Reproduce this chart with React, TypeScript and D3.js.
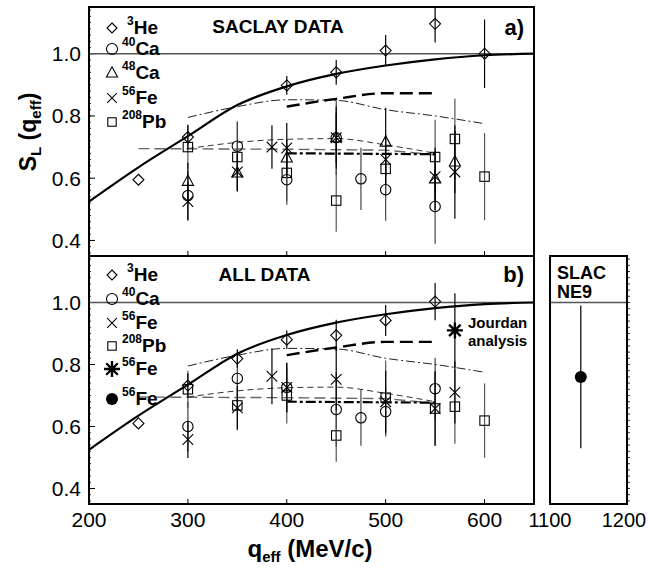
import React from "react";
import * as d3 from "d3";

// ---------- data ----------
type Pt = [number, number, number]; // q, S, err

const topHe: Pt[] = [[250, 0.595, 0], [300, 0.732, 0.04], [400, 0.898, 0.03], [450, 0.94, 0.04], [500, 1.01, 0.05], [550, 1.096, 0.06], [600, 1.0, 0.11]];
const topCa40: Pt[] = [[300, 0.544, 0.08], [350, 0.703, 0.08], [400, 0.595, 0.08], [450, 0.73, 0.12], [475, 0.598, 0.1], [500, 0.563, 0.1], [550, 0.509, 0.12]];
const topCa48: Pt[] = [[300, 0.59, 0.06], [350, 0.617, 0.06], [400, 0.665, 0.06], [450, 0.73, 0.08], [500, 0.716, 0.11], [550, 0.598, 0.1], [570, 0.652, 0.1]];
const topFe: Pt[] = [[300, 0.525, 0.06], [350, 0.62, 0.06], [385, 0.70, 0.07], [400, 0.697, 0.08], [450, 0.73, 0.1], [500, 0.66, 0.08], [550, 0.605, 0.08], [570, 0.62, 0.15]];
const topPb: Pt[] = [[300, 0.70, 0.07], [350, 0.668, 0.11], [400, 0.617, 0.09], [450, 0.528, 0.1], [500, 0.63, 0.08], [550, 0.668, 0.12], [570, 0.726, 0.13], [600, 0.605, 0.14]];

const botHe: Pt[] = [[250, 0.61, 0], [300, 0.732, 0.04], [350, 0.819, 0.03], [400, 0.88, 0.03], [450, 0.894, 0.05], [500, 0.942, 0.05], [550, 1.003, 0.06]];
const botCa40: Pt[] = [[300, 0.60, 0.08], [350, 0.755, 0.08], [400, 0.726, 0.08], [450, 0.655, 0.12], [475, 0.628, 0.09], [500, 0.648, 0.08], [550, 0.722, 0.1]];
const botFe: Pt[] = [[300, 0.558, 0.06], [350, 0.66, 0.07], [385, 0.762, 0.09], [400, 0.726, 0.08], [450, 0.752, 0.1], [500, 0.68, 0.1], [550, 0.658, 0.12], [570, 0.71, 0.1]];
const botPb: Pt[] = [[300, 0.72, 0.06], [350, 0.668, 0.08], [400, 0.70, 0.09], [450, 0.571, 0.085], [500, 0.693, 0.12], [550, 0.658, 0.12], [570, 0.664, 0.12], [600, 0.619, 0.12]];
const jourdan: Pt[] = [[570, 0.91, 0.12]];
const slac: Pt[] = [[1140, 0.76, 0.23]];

// theory curves
const curveSolid: [number, number][] = [[200, 0.525], [250, 0.635], [300, 0.735], [350, 0.835], [400, 0.895], [450, 0.935], [500, 0.962], [550, 0.982], [600, 0.995], [650, 1.0]];
const curveDashDotUpper: [number, number][] = [[300, 0.795], [350, 0.83], [400, 0.852], [450, 0.85], [500, 0.82], [550, 0.80], [600, 0.775]];
const curveThickDash: [number, number][] = [[400, 0.83], [450, 0.855], [500, 0.873], [550, 0.873]];
const curveThinDash: [number, number][] = [[300, 0.695], [350, 0.715], [400, 0.725], [450, 0.727], [500, 0.707], [550, 0.68]];
const curveGreyDash: [number, number][] = [[250, 0.695], [400, 0.693], [500, 0.69], [550, 0.675]];
const curveThickDashDot: [number, number][] = [[400, 0.68], [550, 0.677]];

const xTicksMain = [200, 300, 400, 500, 600];
const xTicksSlac = [1100, 1200];
const yTicks = [0.4, 0.6, 0.8, 1.0];

const topLegend = [["3", "He", "diamond"], ["40", "Ca", "circle"], ["48", "Ca", "triangle"], ["56", "Fe", "cross"], ["208", "Pb", "square"]];
const botLegend = [["3", "He", "diamond"], ["40", "Ca", "circle"], ["56", "Fe", "cross"], ["208", "Pb", "square"], ["56", "Fe", "asterisk"], ["56", "Fe", "dot"]];

// ---------- layout ----------
const FONT = "'Liberation Sans', Arial, Helvetica, sans-serif";
const xMain = d3.scaleLinear().domain([200, 650]).range([89, 534]);
const xSlac = d3.scaleLinear().domain([1100, 1200]).range([550, 627]);
const yTop = d3.scaleLinear().domain([0.35, 1.15]).range([256, 7]);
const yBot = d3.scaleLinear().domain([0.35, 1.15]).range([504, 256]);

function Marker({ kind, x, y, legend }: { kind: string; x: number; y: number; legend?: boolean }) {
  const st = { stroke: "#000", strokeWidth: 1.1, fill: "none" } as any;
  switch (kind) {
    case "diamond": {
      const r = legend ? 5 : 5.5;
      return <path d={`M${x},${y - r}L${x + r},${y}L${x},${y + r}L${x - r},${y}Z`} {...st} />;
    }
    case "circle":
      return <circle cx={x} cy={y} r={legend ? 5.5 : 5.2} {...st} />;
    case "triangle": {
      const r = 6.2;
      return <path d={`M${x},${y - r}L${x + r * 0.9},${y + r * 0.65}L${x - r * 0.9},${y + r * 0.65}Z`} {...st} />;
    }
    case "cross": {
      const r = legend ? 4.8 : 5.3;
      return <path d={`M${x - r},${y - r}L${x + r},${y + r}M${x - r},${y + r}L${x + r},${y - r}`} {...st} />;
    }
    case "square": {
      const r = legend ? 4.2 : 4.7;
      return <rect x={x - r} y={y - r} width={2 * r} height={2 * r} {...st} />;
    }
    case "asterisk": {
      const r = 8;
      const d = r * 0.72;
      return <path d={`M${x},${y - r}L${x},${y + r}M${x - r},${y}L${x + r},${y}M${x - d},${y - d}L${x + d},${y + d}M${x - d},${y + d}L${x + d},${y - d}`} stroke="#000" strokeWidth={2.4} fill="none" />;
    }
    case "dot":
      return <circle cx={x} cy={y} r={6} fill="#000" />;
  }
  return null;
}

function Series({ data, kind, x, y, errColor }: { data: Pt[]; kind: string; x: any; y: any; errColor: string }) {
  return (
    <g>
      {data.map((d, i) =>
        d[2] > 0 ? (
          <line key={"e" + i} x1={x(d[0])} x2={x(d[0])} y1={y(d[1] + d[2])} y2={y(d[1] - d[2])} stroke={errColor} strokeWidth={1.2} />
        ) : null
      )}
      {data.map((d, i) => (
        <Marker key={"m" + i} kind={kind} x={x(d[0])} y={y(d[1])} />
      ))}
    </g>
  );
}

function Curves({ y }: { y: any }) {
  const mk = (c: [number, number][], mono: boolean) =>
    (d3.line<[number, number]>().x((d) => xMain(d[0])).y((d) => y(d[1])).curve(mono ? d3.curveMonotoneX : d3.curveLinear))(c) || "";
  return (
    <g fill="none">
      <path d={mk(curveGreyDash, false)} stroke="#666" strokeWidth={1.4} strokeDasharray="11,5" />
      <path d={mk(curveThinDash, true)} stroke="#333" strokeWidth={1} strokeDasharray="6,4" />
      <path d={mk(curveThickDashDot, false)} stroke="#000" strokeWidth={2.2} strokeDasharray="10,3,3,3" />
      <path d={mk(curveDashDotUpper, true)} stroke="#222" strokeWidth={1} strokeDasharray="9,3,2,3" />
      <path d={mk(curveThickDash, true)} stroke="#000" strokeWidth={2.4} strokeDasharray="13,6" />
      <path d={mk(curveSolid, true)} stroke="#000" strokeWidth={2.2} />
    </g>
  );
}

function YAxis({ y, x0, x1, labels }: { y: any; x0: number; x1: number; labels: boolean }) {
  const minors = d3.range(0.36, 1.15, 0.02);
  return (
    <g>
      {minors.map((v, i) => (
        <line key={"mn" + i} x1={x0} x2={x0 + 2} y1={y(v)} y2={y(v)} stroke="#000" strokeWidth={0.8} />
      ))}
      {yTicks.map((v) => (
        <g key={v}>
          <line x1={x0} x2={x0 + 6} y1={y(v)} y2={y(v)} stroke="#000" strokeWidth={1} />
          {labels && (
            <text x={x0 - 8} y={y(v)} dy="0.36em" textAnchor="end" fontSize={21} fontFamily={FONT}>
              {d3.format(".1f")(v)}
            </text>
          )}
        </g>
      ))}
      <line x1={x0} x2={x1} y1={y(1.0)} y2={y(1.0)} stroke="#555" strokeWidth={1.4} />
    </g>
  );
}

function Legend({ items, y0, step }: { items: string[][]; y0: number; step: number[] }) {
  return (
    <g fontFamily={FONT} fontWeight="bold">
      {items.map((it, i) => {
        const cy = y0 + step[i];
        const sx = it[0].length === 1 ? 127 : 122;
        return (
          <g key={i}>
            <Marker kind={it[2]} x={112} y={cy} legend />
            <text x={sx} y={cy - 3} fontSize={12}>{it[0]}</text>
            <text x={sx + it[0].length * 6.7} y={cy + 6} fontSize={19}>{it[1]}</text>
          </g>
        );
      })}
    </g>
  );
}

export default function App() {
  return (
    <svg width={648} height={570} style={{ position: "absolute", left: 0, top: 0, background: "#fff" }} fontFamily={FONT}>
      <defs>
        <clipPath id="clipTop"><rect x={89} y={7} width={445} height={249} /></clipPath>
        <clipPath id="clipBot"><rect x={89} y={256} width={445} height={248} /></clipPath>
        <clipPath id="clipSlac"><rect x={550} y={256} width={77} height={248} /></clipPath>
      </defs>

      {/* top panel */}
      <YAxis y={yTop} x0={89} x1={534} labels />
      <g clipPath="url(#clipTop)">
        <Curves y={yTop} />
        <Series data={topPb} kind="square" x={xMain} y={yTop} errColor="#555" />
        <Series data={topCa40} kind="circle" x={xMain} y={yTop} errColor="#444" />
        <Series data={topCa48} kind="triangle" x={xMain} y={yTop} errColor="#000" />
        <Series data={topFe} kind="cross" x={xMain} y={yTop} errColor="#000" />
        <Series data={topHe} kind="diamond" x={xMain} y={yTop} errColor="#000" />
      </g>

      {/* bottom panel */}
      <YAxis y={yBot} x0={89} x1={534} labels />
      <g clipPath="url(#clipBot)">
        <Curves y={yBot} />
        <Series data={botPb} kind="square" x={xMain} y={yBot} errColor="#555" />
        <Series data={botCa40} kind="circle" x={xMain} y={yBot} errColor="#444" />
        <Series data={botFe} kind="cross" x={xMain} y={yBot} errColor="#000" />
        <Series data={botHe} kind="diamond" x={xMain} y={yBot} errColor="#000" />
        <Series data={jourdan} kind="asterisk" x={xMain} y={yBot} errColor="#000" />
      </g>

      {/* slac panel */}
      <line x1={550} x2={627} y1={yBot(1.0)} y2={yBot(1.0)} stroke="#555" strokeWidth={1.4} />
      <g clipPath="url(#clipSlac)">
        <Series data={slac} kind="dot" x={xSlac} y={yBot} errColor="#000" />
      </g>
      {d3.range(0.36, 1.15, 0.02).map((v, i) => (
        <line key={"sr" + i} x1={627} x2={630} y1={yBot(v)} y2={yBot(v)} stroke="#000" strokeWidth={0.8} />
      ))}

      {/* x ticks */}
      {xTicksMain.map((v) => (
        <g key={v}>
          <line x1={xMain(v)} x2={xMain(v)} y1={256} y2={251} stroke="#000" strokeWidth={1} />
          <line x1={xMain(v)} x2={xMain(v)} y1={504} y2={499} stroke="#000" strokeWidth={1} />
          <text x={xMain(v)} y={527} textAnchor="middle" fontSize={21}>{v}</text>
        </g>
      ))}
      {xTicksSlac.map((v) => (
        <text key={v} x={Math.min(xSlac(v), 624)} y={527} textAnchor="middle" fontSize={20}>{v}</text>
      ))}

      {/* frames */}
      <rect x={89} y={7} width={445} height={249} fill="none" stroke="#000" strokeWidth={2} />
      <rect x={89} y={256} width={445} height={248} fill="none" stroke="#000" strokeWidth={2} />
      <rect x={550} y={256} width={77} height={248} fill="none" stroke="#000" strokeWidth={2} />

      {/* legends & labels */}
      <Legend items={topLegend} y0={28} step={[0, 21, 45, 70, 94]} />
      <Legend items={botLegend} y0={275} step={[0, 24, 48, 71, 94, 124]} />

      <g fontWeight="bold">
        <text x={278} y={33} textAnchor="middle" fontSize={19}>SACLAY DATA</text>
        <text x={524} y={35} textAnchor="end" fontSize={22}>a)</text>
        <text x={264.5} y={281} textAnchor="middle" fontSize={19}>ALL DATA</text>
        <text x={524} y={282} textAnchor="end" fontSize={22}>b)</text>
        <text x={468} y={328} fontSize={15}>Jourdan</text>
        <text x={468} y={346} fontSize={15}>analysis</text>
        <text x={557} y={279} fontSize={18}>SLAC</text>
        <text x={557} y={298} fontSize={18}>NE9</text>
        <text x={310} y={557} textAnchor="middle" fontSize={24}>
          q<tspan fontSize={15} dy={5}>eff</tspan>
          <tspan dy={-5}> (MeV/c)</tspan>
        </text>
        <text transform="translate(36,132) rotate(-90)" textAnchor="middle" fontSize={23}>
          S<tspan fontSize={15} dy={5}>L</tspan>
          <tspan dy={-5}> (q</tspan>
          <tspan fontSize={15} dy={5}>eff</tspan>
          <tspan dy={-5}>)</tspan>
        </text>
      </g>
    </svg>
  );
}
